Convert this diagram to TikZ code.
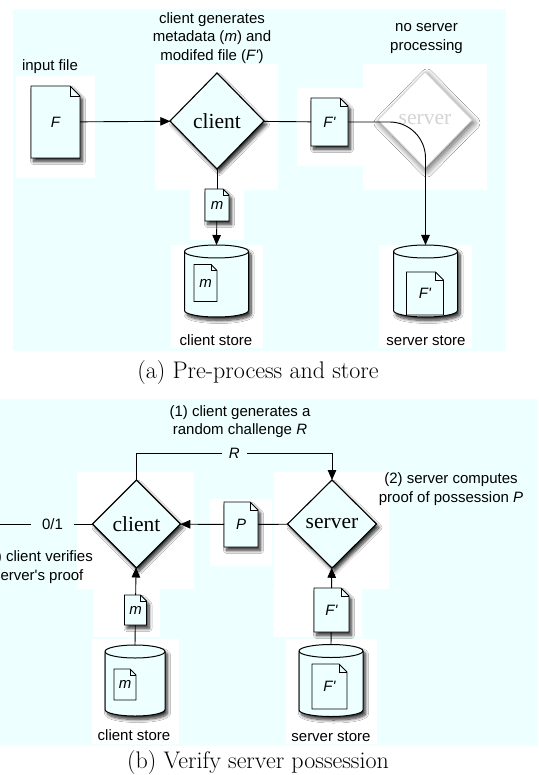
\documentclass[tikz,border=0pt]{standalone}
\usepackage{fontspec}
\newfontfamily\labelfont{Liberation Sans}
\newfontfamily\boxfont{Liberation Serif}
\usetikzlibrary{shapes.geometric,arrows.meta,shadows.blur}
\definecolor{paleblue}{RGB}{238,255,255}
\definecolor{ghost}{RGB}{212,212,212}

% page with a folded corner, and a drum for the stores
\def\docfold{6pt}
\def\drumcap{6.5pt}
\makeatletter
\pgfdeclareshape{docpage}{
    \inheritsavedanchors[from=rectangle]
    \inheritanchorborder[from=rectangle]
    \inheritanchor[from=rectangle]{center}
    \inheritanchor[from=rectangle]{north}
    \inheritanchor[from=rectangle]{south}
    \inheritanchor[from=rectangle]{east}
    \inheritanchor[from=rectangle]{west}
    \inheritanchor[from=rectangle]{north east}
    \inheritanchor[from=rectangle]{north west}
    \inheritanchor[from=rectangle]{south east}
    \inheritanchor[from=rectangle]{south west}
    \backgroundpath{%
        \southwest \pgf@xa=\pgf@x \pgf@ya=\pgf@y
        \northeast \pgf@xb=\pgf@x \pgf@yb=\pgf@y
        \pgf@xc=\pgf@xb \advance\pgf@xc by -\docfold
        \pgf@yc=\pgf@yb \advance\pgf@yc by -\docfold
        \pgfpathmoveto{\pgfqpoint{\pgf@xa}{\pgf@ya}}%
        \pgfpathlineto{\pgfqpoint{\pgf@xa}{\pgf@yb}}%
        \pgfpathlineto{\pgfqpoint{\pgf@xc}{\pgf@yb}}%
        \pgfpathlineto{\pgfqpoint{\pgf@xb}{\pgf@yc}}%
        \pgfpathlineto{\pgfqpoint{\pgf@xb}{\pgf@ya}}%
        \pgfpathclose
    }%
    \beforeforegroundpath{%
        \southwest \pgf@xa=\pgf@x \pgf@ya=\pgf@y
        \northeast \pgf@xb=\pgf@x \pgf@yb=\pgf@y
        \pgf@xc=\pgf@xb \advance\pgf@xc by -\docfold
        \pgf@yc=\pgf@yb \advance\pgf@yc by -\docfold
        \pgfpathmoveto{\pgfqpoint{\pgf@xc}{\pgf@yb}}%
        \pgfpathlineto{\pgfqpoint{\pgf@xc}{\pgf@yc}}%
        \pgfpathlineto{\pgfqpoint{\pgf@xb}{\pgf@yc}}%
        \pgfsetlinewidth{0.6pt}%
        \pgfusepath{stroke}%
    }%
}
\def\drumcorners{%
    \southwest \pgf@xa=\pgf@x \pgf@ya=\pgf@y
    \northeast \pgf@xb=\pgf@x \pgf@yb=\pgf@y
    \pgf@xc=.5\pgf@xb \advance\pgf@xc by -.5\pgf@xa
    \advance\pgf@ya by \drumcap
    \advance\pgf@yb by -\drumcap
    \edef\drumrx{\the\pgf@xc}\edef\drumxa{\the\pgf@xa}\edef\drumxb{\the\pgf@xb}%
    \edef\drumya{\the\pgf@ya}\edef\drumyb{\the\pgf@yb}%
}
\pgfdeclareshape{drum}{
    \inheritsavedanchors[from=rectangle]
    \inheritanchorborder[from=rectangle]
    \inheritanchor[from=rectangle]{center}
    \inheritanchor[from=rectangle]{north}
    \inheritanchor[from=rectangle]{south}
    \inheritanchor[from=rectangle]{east}
    \inheritanchor[from=rectangle]{west}
    \backgroundpath{%
        \drumcorners
        \pgfpathmoveto{\pgfpoint{\drumxa}{\drumyb}}%
        \pgfpathlineto{\pgfpoint{\drumxa}{\drumya}}%
        \pgfpatharc{180}{360}{\drumrx and \drumcap}%
        \pgfpathlineto{\pgfpoint{\drumxb}{\drumyb}}%
        \pgfpatharc{0}{180}{\drumrx and \drumcap}%
        \pgfpathclose
    }%
    \beforeforegroundpath{%
        \drumcorners
        \pgfpathmoveto{\pgfpoint{\drumxa}{\drumyb}}%
        \pgfpatharc{180}{360}{\drumrx and \drumcap}%
        \pgfusepath{stroke}%
    }%
}
\makeatother

\tikzset{
    fold/.code = {\def\docfold{#1}},
    panel/.style = {fill=paleblue, draw=none},
    patch/.style = {fill=white, draw=none},
    shade-box/.style = {blur shadow={shadow xshift=2.5pt, shadow yshift=-3.5pt, shadow blur radius=3pt, shadow blur steps=8, shadow opacity=80}},
    note/.style = {font=\labelfont\fontsize{15}{18.5}\selectfont, align=center, inner sep=0pt},
    tag/.style = {note, fill=paleblue, inner xsep=7pt, inner ysep=1pt},
    caption/.style = {font=\fontsize{24}{28}\selectfont, inner sep=0pt},
    page/.style = {shape=docpage, draw, fill=paleblue, line width=0.9pt, inner sep=0pt, outer sep=0pt, font=\labelfont\itshape\fontsize{15}{18}\selectfont},
    doc/.style = {page, shade-box},
    decision/.style = {diamond, draw, fill=paleblue, line width=1.1pt, minimum width=94pt, minimum height=96pt, inner sep=0pt, outer sep=0pt, font=\boxfont\fontsize{21.5}{24}\selectfont, shade-box},
    ghosty/.style = {draw=ghost, line width=0.8pt, fill=white, text=ghost, blur shadow={shadow xshift=2pt, shadow yshift=-3pt, shadow blur radius=6pt, shadow blur steps=10, shadow opacity=35}},
    store/.style = {shape=drum, draw, fill=paleblue, line width=1pt, minimum width=64pt, minimum height=72pt, inner sep=0pt, outer sep=0pt, shade-box},
    line/.style = {line width=0.9pt},
    arr/.style = {line, -{Triangle[length=10pt,width=8.5pt]}},
}

\begin{document}
\begin{tikzpicture}[x=1pt, y=-1pt]
\useasboundingbox (0,0) rectangle (538,775);
\clip (0,0) rectangle (538,775);

% panels and the white patches behind the shapes
\fill[panel] (13,9) rectangle (506,351);
\fill[panel] (-5,399) rectangle (538,746);
\foreach \xa/\ya/\xb/\yb in {16/76/95/178, 155/64/278/190, 297/88/363/166, 363/64/487/190,
    190/190/244/240, 171/245/263/348, 379/245/472/348,
    77/472/194/589, 274/472/389/589, 210/499/272/566, 93/589/160/637, 273/589/362/637,
    92/639/179/744, 286/639/377/744}
    \fill[patch] (\xa,\ya) rectangle (\xb,\yb);

% (a) pre-process and store
\node[note] (inlbl) at (50,67) {input file};
\node[note] (genlbl) at (212,38) {client generates\\metadata (\textit{m}) and\\modifed file (\textit{F'})};
\node[note] (nolbl) at (426.5,38.5) {no server\\processing};
\node[doc, minimum width=49pt, minimum height=72pt, fold=10pt] (fileA) at (55.5,122) {F};
\node[decision] (clientA) at (217,121) {client};
\node[doc, minimum width=37pt, minimum height=48pt, fold=8pt] (modA) at (329.5,122) {F'};
\node[decision, ghosty] (serverA) at (425,120) {server};
\node[doc, minimum width=24pt, minimum height=32pt, fold=6pt] (metaA) at (217,205) {m};
\node[store] (cstoreA) at (216.5,281) {};
\node[store] (sstoreA) at (425.5,281) {};
\node[page, minimum width=23pt, minimum height=37pt, fold=6pt] (cinA) at (205.5,283) {m};
\node[page, minimum width=37pt, minimum height=43pt, fold=8pt] (sinA) at (425,293.5) {F'};
\node[note] (clblA) at (216,340) {client store};
\node[note] (slblA) at (426,341) {server store};
\node[caption] (capA) at (258,373) {(a) Pre-process and store};

\draw[arr] (fileA) -- (clientA);
\draw[line] (clientA) -- (modA);
\draw[arr, rounded corners=36pt] (modA.east) -| (sstoreA.north);
\draw[line] (clientA) -- (metaA);
\draw[arr] (metaA) -- (cstoreA.north);

% (b) verify server possession
\node[note] (chlbl) at (240,421.5) {(1) client generates a\\random challenge \textit{R}};
\node[note] (prlbl) at (451,489) {(2) server computes\\proof of possession \textit{P}};
\node[note, anchor=east] (vflbl) at (93,567) {(3) client verifies\\server's proof};
\node[decision, minimum width=88pt, minimum height=88pt] (clientB) at (136.5,524) {client};
\node[decision, minimum width=89pt, minimum height=88pt] (serverB) at (332,524) {server};
\node[doc, minimum width=34pt, minimum height=45pt, fold=8pt] (proofB) at (241,524.5) {P};
\node[doc, minimum width=22pt, minimum height=30pt, fold=6pt] (metaB) at (135.5,610) {m};
\node[doc, minimum width=35pt, minimum height=44pt, fold=8pt] (modB) at (331.5,610) {F'};
\node[store, minimum width=60pt, minimum height=71pt] (cstoreB) at (135,680.5) {};
\node[store] (sstoreB) at (331,680.5) {};
\node[page, minimum width=22pt, minimum height=31pt, fold=6pt] (cinB) at (125,684.5) {m};
\node[page, minimum width=35pt, minimum height=45pt, fold=8pt] (sinB) at (329.5,686.5) {F'};
\node[note] (clblB) at (134,735) {client store};
\node[note] (slblB) at (331,737) {server store};
\node[caption] (capB) at (258,763) {(b) Verify server possession};
\coordinate (verdict) at (-5,524);

\draw[arr] (clientB.north) -- ++(0,-27) -| node[tag, pos=0.25] (rlbl) {\textit{R}} (serverB.north);
\draw[line] (serverB) -- (proofB);
\draw[arr] (proofB) -- (clientB);
\draw[line] (clientB.west) -- node[tag, pos=0.41, inner xsep=11pt] (result) {0/1} (verdict);
\draw[arr] (metaB) -- (clientB);
\draw[line] (cstoreB.north) -- (metaB);
\draw[arr] (modB) -- (serverB);
\draw[line] (sstoreB.north) -- (modB);
\end{tikzpicture}
\end{document}
